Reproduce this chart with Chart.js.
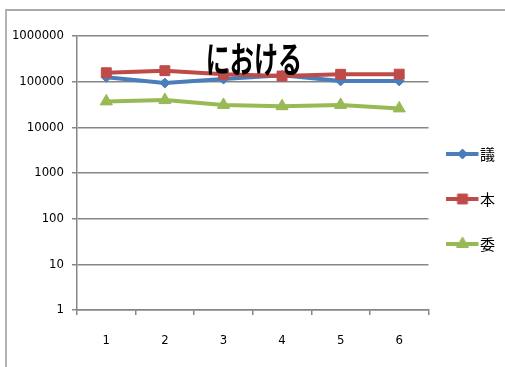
<!DOCTYPE html>
<html>
<head>
<meta charset="utf-8">
<script src="https://cdn.jsdelivr.net/npm/chart.js@4.4.1/dist/chart.umd.min.js"></script>
<style>
    html, body { margin: 0; padding: 0; background: #fff; overflow: hidden; }
    body { width: 505px; height: 367px; position: relative; }
    #frame { position: absolute; left: 5px; top: 9px; width: 600px; height: 400px; border-left: 2px solid #b4b4b4; border-top: 2px solid #a8a8a8; }
    #wrap { position: absolute; left: 7px; top: 10px; width: 498px; height: 352px; }
    #title { position: absolute; left: 154px; width: 200px; top: 39px; text-align: center; font: bold 36px/36px 'Noto Sans CJK JP', sans-serif; color: #000; transform: scaleX(0.67); pointer-events: none; }
</style>
</head>
<body>
<div id="frame"></div>
<div id="wrap"><canvas id="chart"></canvas></div>
<div id="title">における</div>
<script>
const categories = ['1', '2', '3', '4', '5', '6'];
const seriesNames = ['議', '本', '委'];
const giValues = [125000, 93000, 114000, 138000, 104000, 104000];
const honValues = [157000, 174000, 145000, 133000, 145000, 146000];
const iValues = [37000, 39500, 31000, 29000, 31000, 26000];
const yTicks = [1, 10, 100, 1000, 10000, 100000, 1000000];

const axisGray = '#868686';
const tickFont = { family: "'DejaVu Sans Condensed', 'Liberation Sans Narrow', sans-serif", size: 13 };

// small line + marker picture for the legend, like the spreadsheet legend
function legendIcon(color, pointStyle, radius) {
    const c = document.createElement('canvas');
    c.width = 38;
    c.height = 16;
    const g = c.getContext('2d');
    g.strokeStyle = color;
    g.lineWidth = 4;
    g.beginPath();
    g.moveTo(0, 8);
    g.lineTo(32, 8);
    g.stroke();
    g.fillStyle = color;
    g.strokeStyle = color;
    g.lineWidth = 1;
    Chart.helpers.drawPoint(g, { pointStyle: pointStyle, radius: radius, rotation: 0, borderWidth: 1 }, 16, 8);
    return c;
}

const datasets = [
    { label: seriesNames[0], data: giValues, borderColor: '#4A7EBB', backgroundColor: '#4A7EBB', pointStyle: 'rectRot', pointRadius: 5, order: 2 },
    { label: seriesNames[1], data: honValues, borderColor: '#BE4B48', backgroundColor: '#BE4B48', pointStyle: 'rect', pointRadius: 7, order: 1 },
    { label: seriesNames[2], data: iValues, borderColor: '#98B954', backgroundColor: '#98B954', pointStyle: 'triangle', pointRadius: 7, order: 0 }
];
datasets.forEach(ds => {
    ds.borderWidth = 4;
    ds.pointBorderWidth = 1;
    ds.pointHoverRadius = ds.pointRadius;
    ds.tension = 0;
    ds.fill = false;
});

const chart = new Chart(document.getElementById('chart'), {
    type: 'line',
    data: { labels: categories, datasets: datasets },
    options: {
        responsive: true,
        maintainAspectRatio: false,
        animation: false,
        layout: { padding: { top: 26, left: 0, right: 0, bottom: 0 } },
        plugins: {
            tooltip: { enabled: false },
            title: { display: false },
            legend: {
                position: 'right',
                labels: {
                    usePointStyle: true,
                    pointStyleWidth: 14,
                    padding: 30,
                    color: '#000',
                    font: { family: "'Noto Sans CJK JP', sans-serif", size: 15 },
                    sort: (a, b) => a.datasetIndex - b.datasetIndex,
                    generateLabels: (c) => {
                        const items = Chart.defaults.plugins.legend.labels.generateLabels(c);
                        items.forEach(item => {
                            const ds = c.data.datasets[item.datasetIndex];
                            item.pointStyle = legendIcon(ds.borderColor, ds.pointStyle, ds.pointRadius);
                        });
                        return items;
                    }
                }
            }
        },
        scales: {
            x: {
                type: 'category',
                offset: true,
                grid: { drawOnChartArea: false, drawTicks: true, tickLength: 5, color: axisGray, lineWidth: 1.5, offset: true },
                border: { color: axisGray, width: 1.5 },
                ticks: { color: '#000', font: tickFont, padding: 18, maxRotation: 0 },
                afterFit: (scale) => { scale.height = 52; }
            },
            y: {
                type: 'logarithmic',
                min: 1,
                max: 1000000,
                grid: { color: axisGray, lineWidth: 1.5, tickLength: 5 },
                border: { color: axisGray, width: 1.5 },
                ticks: { color: '#000', font: tickFont, padding: 8, callback: (v) => String(v) },
                afterBuildTicks: (scale) => { scale.ticks = yTicks.map(v => ({ value: v })); },
                afterFit: (scale) => { scale.width = 70; }
            }
        }
    }
});
</script>
</body>
</html>
